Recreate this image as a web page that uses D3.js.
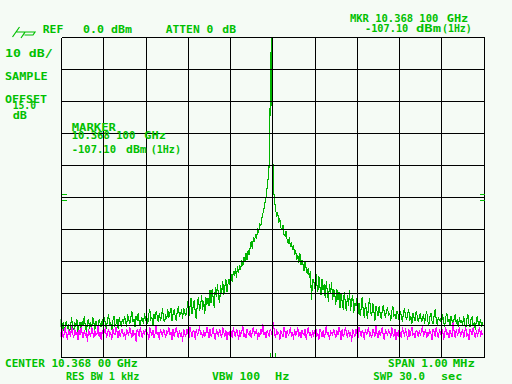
<!DOCTYPE html>
<html>
<head>
<meta charset="utf-8">
<script src="https://cdn.jsdelivr.net/npm/d3@7"></script>
<style>
  html, body { margin: 0; padding: 0; background: #f5fbf5; }
  svg { display: block; }
  .lbl { font-family: "DejaVu Sans Mono", monospace; font-weight: bold; font-size: 10px; fill: #00c000; }
</style>
</head>
<body>
<div id="chart"></div>
<script>
// trace A (green), dBm, 401 points across the span
const traceA = [
  -90.5, -88.0, -91.5, -89.0, -92.0, -90.0, -88.5, -91.0, -89.5, -92.5, -90.0, -87.5, -90.5, -91.5, -89.0, -90.5, -88.0, -92.0, -90.0, -89.0,
  -91.0, -88.5, -90.0, -87.0, -90.5, -92.0, -89.0, -88.0, -91.0, -89.5, -90.5, -87.5, -89.0, -91.5, -88.5, -90.0, -92.0, -88.0, -89.5, -90.5,
  -88.0, -90.5, -87.5, -89.5, -91.0, -88.0, -86.5, -90.0, -89.0, -91.5, -88.5, -87.0, -90.0, -89.5, -88.0, -91.0, -87.5, -89.0, -90.5, -88.0,
  -89.5, -87.0, -88.5, -90.5, -86.5, -88.0, -89.5, -87.5, -85.5, -89.0, -88.0, -90.5, -87.0, -88.5, -86.0, -89.0, -90.0, -87.5, -88.0, -89.5,
  -86.0, -88.5, -87.0, -89.5, -86.5, -85.0, -88.0, -87.5, -90.0, -86.5, -88.0, -85.5, -87.0, -89.0, -86.0, -88.5, -87.5, -84.5, -88.0, -89.0,
  -86.5, -88.0, -85.0, -87.5, -86.0, -84.5, -88.5, -86.5, -85.0, -87.0, -88.5, -85.5, -84.0, -87.0, -86.5, -85.0, -88.0, -84.5, -86.0, -87.0,
  -85.0, -82.5, -87.0, -84.0, -81.5, -86.5, -84.0, -82.0, -86.0, -88.0, -83.0, -81.0, -85.5, -84.0, -80.5, -85.0, -82.5, -86.5, -81.0, -83.5,
  -81.5, -84.0, -79.0, -83.0, -78.5, -81.5, -84.5, -78.0, -81.0, -77.0, -81.0, -83.0, -77.5, -80.0, -76.0, -80.5, -78.0, -75.5, -79.5, -77.0,
  -75.5, -77.5, -74.0, -76.5, -73.0, -74.5, -72.0, -75.0, -71.5, -73.5, -71.0, -72.5, -69.5, -71.5, -68.5, -70.0, -67.5, -69.5, -66.5, -68.0,
  -65.5, -63.5, -66.0, -62.5, -64.0, -61.5, -63.0, -59.5, -61.0, -58.0, -59.0, -56.5, -55.0, -53.5, -51.5, -50.0, -47.0, -44.0, -39.5, -17.5,
  0.0, -31.5, -47.0, -51.0, -53.5, -56.0, -54.5, -58.0, -56.5, -59.5, -60.0, -58.5, -61.5, -62.0, -60.5, -63.5, -64.5, -62.5, -65.5, -64.0,
  -66.5, -65.0, -68.0, -66.5, -69.5, -68.0, -70.5, -67.5, -71.0, -69.5, -71.0, -73.0, -70.0, -72.5, -74.0, -72.0, -75.0, -73.0, -82.0, -75.5,
  -75.5, -78.5, -73.0, -77.0, -79.5, -74.5, -78.0, -80.5, -75.5, -79.0, -77.0, -81.5, -76.0, -79.5, -82.5, -77.0, -80.0, -76.5, -82.0, -78.5,
  -80.0, -83.5, -78.5, -82.0, -79.5, -84.5, -80.0, -82.5, -85.0, -79.5, -83.0, -85.5, -80.5, -84.0, -79.0, -85.5, -82.0, -80.5, -86.0, -83.0,
  -84.0, -81.5, -86.5, -83.0, -87.0, -84.5, -81.0, -85.5, -87.5, -83.0, -85.5, -88.0, -83.5, -81.5, -86.0, -87.0, -83.0, -85.5, -88.5, -84.0,
  -85.5, -87.0, -84.0, -86.5, -88.0, -85.0, -83.5, -86.5, -87.5, -85.0, -84.5, -87.0, -86.0, -88.5, -85.5, -84.0, -87.0, -86.5, -88.0, -85.5,
  -86.5, -88.5, -85.5, -87.0, -89.0, -86.0, -84.5, -87.5, -88.0, -86.5, -85.0, -88.5, -87.0, -89.5, -86.0, -87.5, -88.5, -85.5, -87.0, -89.0,
  -87.5, -86.0, -89.0, -88.0, -86.5, -89.5, -87.0, -85.5, -88.5, -90.0, -87.5, -86.0, -88.5, -89.5, -87.0, -85.0, -88.0, -90.0, -87.5, -88.5,
  -88.0, -89.5, -86.5, -88.5, -90.5, -87.5, -86.0, -89.0, -88.0, -90.0, -87.0, -88.5, -91.0, -87.5, -86.5, -89.5, -88.0, -90.5, -87.5, -89.0,
  -88.5, -90.0, -87.0, -89.5, -91.0, -88.0, -86.5, -89.5, -90.5, -88.0, -87.5, -90.0, -89.0, -91.5, -88.5, -87.0, -90.0, -89.5, -88.0, -90.5,
  -89.0
];

// trace B (magenta), dBm
const traceB = [
  -92.0, -93.5, -91.0, -94.0, -92.5, -90.5, -93.0, -94.5, -91.5, -92.0, -93.5, -90.0, -92.5, -94.0, -91.0, -93.0, -92.0, -94.5, -91.5, -93.0,
  -90.5, -92.5, -94.0, -91.5, -93.0, -92.0, -95.0, -91.0, -92.5, -93.5, -90.5, -92.0, -94.0, -91.5, -93.0, -92.5, -90.0, -93.5, -92.0, -94.5,
  -91.5, -93.0, -92.0, -90.5, -94.0, -92.5, -91.0, -93.5, -92.0, -94.5, -91.0, -92.5, -93.0, -90.5, -92.0, -94.0, -91.5, -93.5, -92.0, -91.0,
  -93.5, -92.0, -94.5, -91.0, -92.5, -93.0, -90.5, -92.0, -94.0, -91.5, -93.0, -92.5, -95.0, -91.0, -92.0, -93.5, -90.5, -92.5, -94.0, -91.5,
  -92.5, -91.0, -93.5, -92.0, -94.5, -90.5, -92.0, -93.0, -91.5, -94.0, -92.5, -90.0, -93.0, -92.0, -94.5, -91.0, -92.5, -93.5, -91.0, -92.0,
  -94.0, -91.5, -92.5, -90.5, -93.0, -92.0, -94.5, -91.0, -93.5, -92.0, -90.5, -92.5, -94.0, -91.5, -93.0, -92.0, -95.0, -91.0, -92.5, -93.5,
  -91.0, -92.5, -94.0, -90.5, -92.0, -93.5, -91.5, -92.0, -94.5, -91.0, -93.0, -92.5, -90.0, -93.0, -92.0, -94.0, -91.5, -93.5, -92.5, -90.5,
  -92.0, -94.0, -91.0, -93.5, -92.5, -90.5, -93.0, -94.5, -91.5, -92.0, -93.5, -91.0, -92.5, -94.0, -90.5, -92.0, -93.5, -91.5, -94.5, -92.0,
  -93.0, -91.5, -92.0, -94.0, -90.5, -92.5, -93.5, -91.0, -92.0, -94.5, -91.5, -93.0, -92.0, -90.0, -93.5, -92.5, -94.0, -91.0, -92.5, -93.0,
  -91.5, -94.0, -92.0, -90.5, -93.0, -92.5, -91.0, -94.5, -92.0, -93.5, -91.0, -92.5, -89.5, -93.0, -92.0, -94.0, -91.5, -92.5, -93.5, -91.0,
  -92.0, -93.5, -89.0, -92.5, -94.0, -91.0, -93.0, -92.0, -94.5, -91.5, -92.5, -93.5, -90.5, -92.0, -94.0, -91.5, -93.0, -92.5, -90.5, -93.5,
  -92.0, -94.5, -91.0, -93.0, -92.5, -90.5, -93.5, -92.0, -94.0, -91.5, -92.5, -93.0, -91.0, -94.5, -92.0, -90.5, -93.0, -92.5, -94.0, -91.5,
  -93.0, -92.0, -90.5, -93.5, -92.5, -94.5, -91.0, -92.0, -93.5, -91.5, -94.0, -92.5, -90.0, -93.0, -92.0, -94.5, -91.5, -92.5, -93.0, -91.0,
  -92.5, -94.0, -91.5, -93.0, -90.5, -92.0, -94.5, -91.0, -93.5, -92.5, -90.5, -92.0, -94.0, -91.5, -93.0, -92.0, -95.0, -91.0, -92.5, -93.5,
  -91.0, -92.5, -94.0, -90.5, -92.0, -93.5, -91.5, -92.5, -94.5, -91.0, -93.0, -92.0, -90.5, -93.5, -92.5, -94.0, -91.0, -92.0, -93.5, -90.0,
  -92.5, -94.0, -91.5, -93.0, -92.0, -90.5, -93.5, -94.5, -91.0, -92.5, -93.0, -91.5, -92.0, -94.0, -90.5, -92.5, -93.5, -91.0, -94.5, -92.0,
  -93.5, -91.0, -92.5, -94.0, -90.5, -92.0, -93.0, -91.5, -92.5, -94.5, -91.0, -93.5, -92.0, -90.5, -93.0, -92.5, -94.0, -91.5, -92.0, -93.5,
  -91.5, -93.0, -92.0, -90.0, -93.5, -92.5, -91.0, -94.0, -92.0, -93.0, -91.5, -92.5, -94.5, -91.0, -92.0, -93.5, -90.5, -92.5, -94.0, -91.5,
  -92.0, -93.5, -91.0, -94.5, -92.5, -90.5, -93.0, -92.0, -94.0, -91.5, -92.5, -93.5, -89.0, -92.0, -94.0, -91.0, -93.0, -92.5, -90.5, -93.5,
  -92.5, -91.0, -94.0, -92.0, -90.5, -93.5, -92.5, -94.5, -91.0, -92.0, -93.0, -90.5, -92.5, -94.0, -91.5, -93.0, -92.0, -90.5, -93.5, -92.0,
  -93.0
];

// span in kHz around the centre frequency, reference level and scale
const spanKHz = [-500, 500];
const levelDbm = [-100, 0];
const freqTicks = [-500, -400, -300, -200, -100, 0, 100, 200, 300, 400, 500];
const levelTicks = [-100, -90, -80, -70, -60, -50, -40, -30, -20, -10, 0];

const labels = [
  ["REF", 42.7, 33, 19.6], ["0.0 dBm", 83, 33, 48], ["ATTEN 0", 165.7, 33, 46.6], ["dB", 222.3, 33, 12.7],
  ["MKR 10.368 100", 350, 22, 87.3], ["GHz", 446.7, 22, 20.6],
  ["-107.10", 365, 32, 42.3], ["dBm", 416, 32, 24], ["(1Hz)", 442, 32, 28.7],
  ["10 dB/", 5, 57, 46.7], ["SAMPLE", 5, 80, 41.7], ["OFFSET", 5, 102.7, 41],
  ["15.0", 12.7, 109, 22.3], ["dB", 12.7, 119.3, 13.3],
  ["MARKER", 71.7, 130.7, 43.3], ["10.368 100", 71.7, 138.7, 62.6], ["GHz", 144.3, 138.7, 20.7],
  ["-107.10", 71.7, 153, 43.3], ["dBm", 126, 153, 19.7], ["(1Hz)", 150.7, 153, 29.3],
  ["CENTER 10.368 00", 5, 367.3, 105], ["GHz", 116.7, 367.3, 20],
  ["RES BW 1 kHz", 66, 380, 72.3], ["VBW 100", 212, 380, 47], ["Hz", 275, 380, 13.3],
  ["SPAN 1.00", 388, 367.3, 58.7], ["MHz", 452.7, 367.3, 21.3],
  ["SWP 30.0", 373.3, 380, 50.7], ["sec", 441, 380, 20.3]
];

const W = 512, H = 384;
const svg = d3.select("#chart").append("svg").attr("width", W).attr("height", H);
svg.append("rect").attr("width", W).attr("height", H).attr("fill", "#f5fbf5");

const x = d3.scaleLinear().domain(spanKHz).range([61.5, 484.2]);
const y = d3.scaleLinear().domain(levelDbm).range([357.5, 37.5]);

function freqAt(i, n) {
  return spanKHz[0] + (spanKHz[1] - spanKHz[0]) * i / (n - 1);
}

// traces
const traces = svg.append("g").attr("transform", "translate(-1.5,0)");
traces.append("clipPath").attr("id", "plotclip")
  .append("rect").attr("x", 62).attr("y", 37).attr("width", 425).attr("height", 321);

function drawTrace(vals, color) {
  const line = d3.line()
    .x((d, i) => x(freqAt(i, vals.length)))
    .y(d => y(d));
  traces.append("path")
    .attr("d", line(vals))
    .attr("fill", "none")
    .attr("stroke", color)
    .attr("stroke-width", 1.1)
    .attr("shape-rendering", "crispEdges")
    .attr("clip-path", "url(#plotclip)");
}
drawTrace(traceA, "#00b400");
drawTrace(traceB, "#ff00ff");

// graticule
const grid = svg.append("g").attr("stroke", "#000").attr("stroke-width", 1).attr("shape-rendering", "crispEdges");
grid.selectAll("line.v").data(freqTicks).enter().append("line")
  .attr("x1", d => Math.floor(x(d)) + 0.5).attr("x2", d => Math.floor(x(d)) + 0.5)
  .attr("y1", y(levelDbm[0])).attr("y2", y(levelDbm[1]));
grid.selectAll("line.h").data(levelTicks).enter().append("line")
  .attr("y1", d => y(d)).attr("y2", d => y(d))
  .attr("x1", Math.floor(x(spanKHz[0])) + 0.5).attr("x2", Math.floor(x(spanKHz[1])) + 0.5);

// side level marks and centre marks
const marks = svg.append("g").attr("stroke", "#00c000").attr("stroke-width", 1).attr("shape-rendering", "crispEdges");
[-3, 3].forEach(dy => {
  marks.append("line").attr("x1", 62).attr("x2", 67).attr("y1", y(-50) + dy).attr("y2", y(-50) + dy);
  marks.append("line").attr("x1", 480).attr("x2", 485).attr("y1", y(-50) + dy).attr("y2", y(-50) + dy);
});
[-2.5, 2.5].forEach(dx => {
  marks.append("line").attr("x1", x(0) + dx).attr("x2", x(0) + dx).attr("y1", 353).attr("y2", 357);
});

// hp logo
svg.append("path")
  .attr("d", "M12.5,37 L19.5,27 M16.5,32 L25,32 L22.5,36 M25,32 L35,32 L33,35 L24.5,35 M25,32 L21,38")
  .attr("fill", "none").attr("stroke", "#00c000").attr("stroke-width", 1.2);

// annotation text
svg.append("g").selectAll("text").data(labels).enter().append("text")
  .attr("class", "lbl")
  .attr("x", d => d[1]).attr("y", d => d[2])
  .attr("textLength", d => d[3] + 1)
  .attr("lengthAdjust", "spacingAndGlyphs")
  .text(d => d[0]);
</script>
</body>
</html>
